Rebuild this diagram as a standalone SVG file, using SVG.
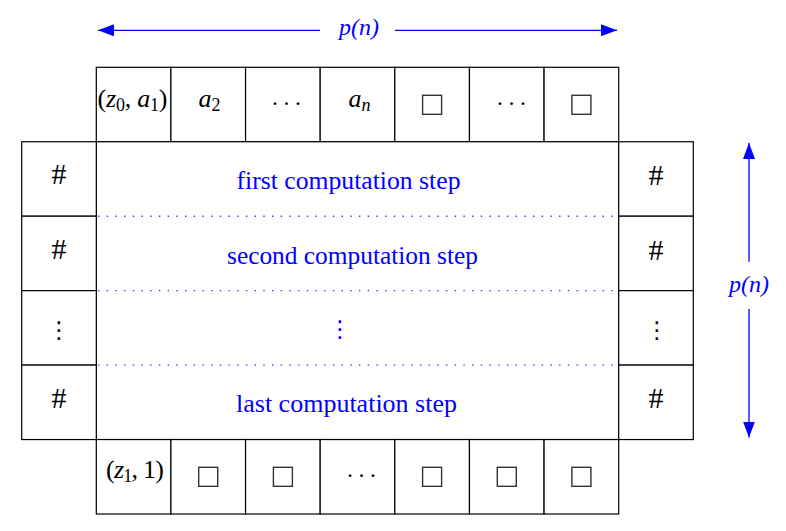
<svg xmlns="http://www.w3.org/2000/svg" width="786" height="531" viewBox="0 0 786 531">
<style>
.cell{fill:#fff;stroke:#000;stroke-width:1.2}
.box{fill:none;stroke:#333;stroke-width:1.4}
.m{font-family:"Liberation Serif","DejaVu Serif",serif;font-size:26px;fill:#000}
.hash{font-family:"Liberation Serif","DejaVu Serif",serif;font-size:30px;fill:#000;text-anchor:middle}
.i{font-style:italic}
.sub{font-size:18px;font-style:normal}
.sub.i{font-style:italic}
.lbl{font-family:"Liberation Serif","DejaVu Serif",serif;font-size:25px;fill:#0000ff}
.dots{font-family:"Liberation Serif",serif;font-size:24px;fill:#000;letter-spacing:5.5px}
.vd{font-family:"DejaVu Sans",sans-serif;font-size:23px;text-anchor:middle}
.arr{stroke:#0000ff;stroke-width:1.3;fill:none}
.dot{stroke:#3333ff;stroke-width:1.4;stroke-dasharray:1.4 7.3;fill:none}
.c{text-anchor:middle}
</style>
<defs>
<marker id="ah" markerUnits="userSpaceOnUse" markerWidth="18" markerHeight="14" refX="16" refY="6" orient="auto-start-reverse">
<path d="M0,0 L16,6 L0,12 Z" fill="#0000ff"/>
</marker>
</defs>

<g id="connectors">
<line class="arr" x1="98" y1="30.3" x2="320" y2="30.3" marker-start="url(#ah)"/>
<line class="arr" x1="395" y1="30.3" x2="617" y2="30.3" marker-end="url(#ah)"/>
<line class="arr" x1="749" y1="143" x2="749" y2="261.7" marker-start="url(#ah)"/>
<line class="arr" x1="749" y1="309" x2="749" y2="437.5" marker-end="url(#ah)"/>
</g>
<g id="label-top"><text class="lbl i c" x="359" y="35" style="font-size:24px">p(n)</text></g>
<g id="label-right"><text class="lbl i c" x="749" y="292" style="font-size:24px">p(n)</text></g>

<!-- top row -->
<g id="t1"><rect class="cell" x="96.3" y="67.3" width="74.63" height="74.45"/>
<text class="m c" x="132.5" y="107" textLength="70" lengthAdjust="spacing"><tspan>(</tspan><tspan class="i">z</tspan><tspan class="sub" dy="4">0</tspan><tspan dy="-4">, </tspan><tspan class="i">a</tspan><tspan class="sub" dy="4">1</tspan><tspan dy="-4">)</tspan></text></g>
<g id="t2"><rect class="cell" x="170.93" y="67.3" width="74.63" height="74.45"/>
<text class="m c" x="209.5" y="107"><tspan class="i">a</tspan><tspan class="sub" dy="4">2</tspan></text></g>
<g id="t3"><rect class="cell" x="245.56" y="67.3" width="74.63" height="74.45"/>
<text class="dots" x="272" y="105">...</text></g>
<g id="t4"><rect class="cell" x="320.19" y="67.3" width="74.63" height="74.45"/>
<text class="m c" x="359.5" y="107"><tspan class="i">a</tspan><tspan class="sub i" dy="4">n</tspan></text></g>
<g id="t5"><rect class="cell" x="394.82" y="67.3" width="74.63" height="74.45"/>
<rect class="box" x="422.6" y="95.3" width="19" height="19"/></g>
<g id="t6"><rect class="cell" x="469.45" y="67.3" width="74.63" height="74.45"/>
<text class="dots" x="497" y="105">...</text></g>
<g id="t7"><rect class="cell" x="544.08" y="67.3" width="74.63" height="74.45"/>
<rect class="box" x="571.9" y="95.3" width="19" height="19"/></g>

<!-- middle block -->
<g id="tape"><rect class="cell" x="96.3" y="141.75" width="522.4" height="297.8"/>
<line class="dot" x1="98" y1="216.2" x2="618" y2="216.2"/>
<line class="dot" x1="98" y1="290.65" x2="618" y2="290.65"/>
<line class="dot" x1="98" y1="365.1" x2="618" y2="365.1"/>
<text class="lbl c" x="348.5" y="188.5" textLength="224" lengthAdjust="spacingAndGlyphs">first computation step</text>
<text class="lbl c" x="352.5" y="263.5" textLength="251" lengthAdjust="spacingAndGlyphs">second computation step</text>
<text class="vd" x="340" y="337" fill="#0000ff">⋮</text>
<text class="lbl c" x="346.5" y="412" textLength="221" lengthAdjust="spacingAndGlyphs">last computation step</text>
</g>

<!-- left column -->
<g id="l1"><rect class="cell" x="21.7" y="141.75" width="74.6" height="74.45"/><text class="hash" x="59" y="184">#</text></g>
<g id="l2"><rect class="cell" x="21.7" y="216.2" width="74.6" height="74.45"/><text class="hash" x="59" y="258.5">#</text></g>
<g id="l3"><rect class="cell" x="21.7" y="290.65" width="74.6" height="74.45"/><text class="vd" x="59" y="337.5" fill="#000">⋮</text></g>
<g id="l4"><rect class="cell" x="21.7" y="365.1" width="74.6" height="74.45"/><text class="hash" x="59" y="407.5">#</text></g>

<!-- right column -->
<g id="r1"><rect class="cell" x="618.7" y="141.75" width="74.6" height="74.45"/><text class="hash" x="656" y="185">#</text></g>
<g id="r2"><rect class="cell" x="618.7" y="216.2" width="74.6" height="74.45"/><text class="hash" x="656" y="259.5">#</text></g>
<g id="r3"><rect class="cell" x="618.7" y="290.65" width="74.6" height="74.45"/><text class="vd" x="657" y="337.5" fill="#000">⋮</text></g>
<g id="r4"><rect class="cell" x="618.7" y="365.1" width="74.6" height="74.45"/><text class="hash" x="656" y="408">#</text></g>

<!-- bottom row -->
<g id="b1"><rect class="cell" x="96.3" y="439.55" width="74.63" height="74.45"/>
<text class="m c" x="135" y="478" textLength="58" lengthAdjust="spacing"><tspan>(</tspan><tspan class="i">z</tspan><tspan class="sub" dy="4">1</tspan><tspan dy="-4">, 1)</tspan></text></g>
<g id="b2"><rect class="cell" x="170.93" y="439.55" width="74.63" height="74.45"/>
<rect class="box" x="198.7" y="467.3" width="19" height="19"/></g>
<g id="b3"><rect class="cell" x="245.56" y="439.55" width="74.63" height="74.45"/>
<rect class="box" x="273.4" y="467.3" width="19" height="19"/></g>
<g id="b4"><rect class="cell" x="320.19" y="439.55" width="74.63" height="74.45"/>
<text class="dots" x="347" y="477">...</text></g>
<g id="b5"><rect class="cell" x="394.82" y="439.55" width="74.63" height="74.45"/>
<rect class="box" x="422.6" y="467.3" width="19" height="19"/></g>
<g id="b6"><rect class="cell" x="469.45" y="439.55" width="74.63" height="74.45"/>
<rect class="box" x="497.3" y="467.3" width="19" height="19"/></g>
<g id="b7"><rect class="cell" x="544.08" y="439.55" width="74.63" height="74.45"/>
<rect class="box" x="571.9" y="467.3" width="19" height="19"/></g>
</svg>
